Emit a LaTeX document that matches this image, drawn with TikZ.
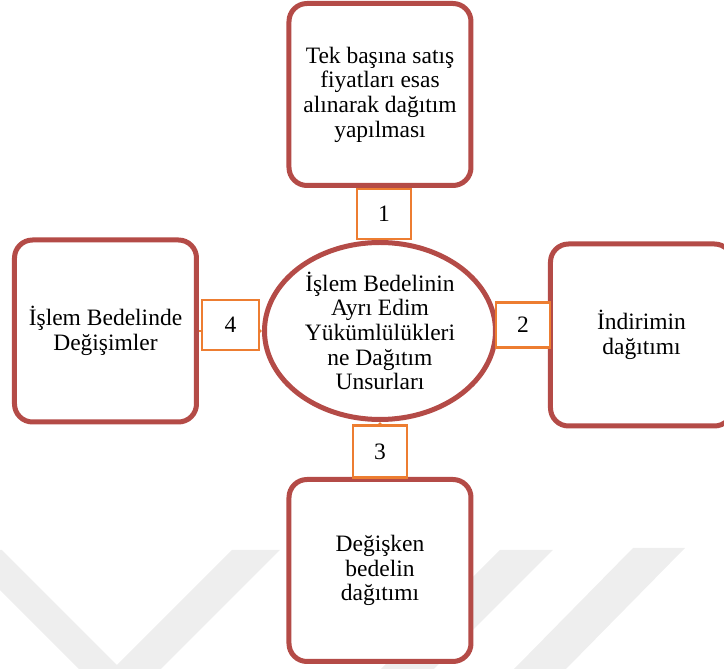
\documentclass[tikz,border=0pt]{standalone}
\usepackage{fontspec}
\setmainfont{Liberation Serif}
\usetikzlibrary{shapes.geometric, arrows.meta, positioning}

\definecolor{boxred}{RGB}{180,75,71}
\definecolor{numorange}{RGB}{237,125,49}
\definecolor{markgray}{RGB}{238,238,238}

\begin{document}
\begin{tikzpicture}[
    font=\fontsize{23.5}{24.7}\selectfont,
    part/.style={rectangle, draw=boxred, fill=white, line width=5pt, rounded corners=18pt, align=center, minimum width=182pt, minimum height=182pt, inner sep=2pt},
    hub/.style={ellipse, draw=boxred, fill=white, line width=5pt, align=center, minimum width=231pt, minimum height=177pt, inner sep=0pt},
    numbox/.style={rectangle, draw=numorange, fill=white, line width=2.3pt, minimum width=54pt, minimum height=50pt, inner sep=0pt},
    link/.style={-{Triangle[length=4pt, width=7pt]}, line width=1.5pt, draw=numorange}
]
\useasboundingbox (-380pt,-338pt) rectangle (344pt,331pt);

% Watermark
\begin{scope}
\clip (-380pt,-338pt) rectangle (344pt,331pt);
\fill[markgray] (-420pt,-219pt) -- (-378pt,-219pt) -- (-259pt,-338pt) -- (-301pt,-338pt) -- cycle;
\fill[markgray] (-148pt,-219pt) -- (-100pt,-219pt) -- (-219pt,-338pt) -- (-267pt,-338pt) -- cycle;
\fill[markgray] (120pt,-219pt) -- (173pt,-219pt) -- (54pt,-338pt) -- (1pt,-338pt) -- cycle;
\fill[markgray] (253pt,-217pt) -- (305pt,-217pt) -- (186pt,-338pt) -- (134pt,-338pt) -- cycle;
\end{scope}

% Nodes
\node[hub] (alloc) at (0,0) {İşlem Bedelinin\\Ayrı Edim\\Yükümlülükleri\\ne Dağıtım\\Unsurları};

\node[part, above=52pt of alloc] (sale) {Tek başına satış\\fiyatları esas\\alınarak dağıtım\\yapılması};
\node[part, right=50pt of alloc, yshift=-4pt] (discount) {İndirimin\\dağıtımı};
\node[part, below=55pt of alloc] (variable) {Değişken\\bedelin\\dağıtımı};
\node[part, left=63pt of alloc] (change) {İşlem Bedelinde\\Değişimler};

% Arrows
\draw[link] (sale) -- node[numbox, xshift=4pt] (n1) {1} (alloc);
\draw[link] (discount.west) -- node[numbox, minimum height=45pt, yshift=8pt] (n2) {2} (alloc.east);
\draw[link] (variable) -- node[numbox, minimum height=52pt, yshift=-2pt] (n3) {3} (alloc);
\draw[link] (change) -- node[numbox, minimum width=57pt, yshift=6pt] (n4) {4} (alloc);

\end{tikzpicture}
\end{document}
